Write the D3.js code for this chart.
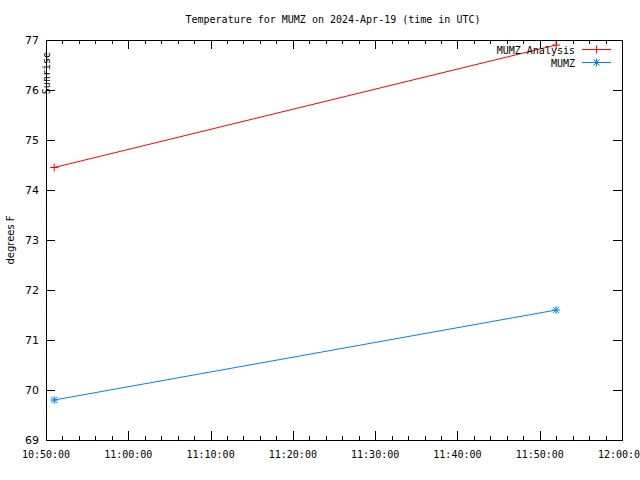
<!DOCTYPE html>
<html><head><meta charset="utf-8">
<script src="https://cdn.jsdelivr.net/npm/d3@7"></script>
<style>body{margin:0;background:#fff}svg{display:block}text{font-family:"DejaVu Sans Mono",monospace;font-size:10px;fill:#000}</style>
</head><body>
<svg id="c" width="640" height="480"></svg>
<script>
const analysisTimes = ["10:51:00", "11:52:00"];
const analysisValues = [74.45, 76.9];
const obsTimes = ["10:51:00", "11:52:00"];
const obsValues = [69.8, 71.6];
const yTicks = [69, 70, 71, 72, 73, 74, 75, 76, 77];
const xTickLabels = ["10:50:00","11:00:00","11:10:00","11:20:00","11:30:00","11:40:00","11:50:00","12:00:00"];
const sunriseTime = "10:50:00";

const parse = d3.timeParse("%H:%M:%S");
const svg = d3.select("#c");
const L = 46, R = 622, T = 40, B = 440;
const x = d3.scaleTime().domain([parse("10:50:00"), parse("12:00:00")]).range([L, R]);
const y = d3.scaleLinear().domain([69, 77]).range([B, T]);

// frame
svg.append("rect").attr("x", L).attr("y", T).attr("width", R-L).attr("height", B-T)
  .attr("fill","none").attr("stroke","#000").attr("stroke-width",1).attr("shape-rendering","crispEdges");

const g = svg.append("g").attr("shape-rendering","crispEdges");
// x ticks major & minor
const minor = d3.timeMinute.every(2).range(parse("10:50:00"), d3.timeSecond.offset(parse("12:00:00"),1));
minor.forEach(t => {
  const isMajor = t.getMinutes() % 10 === 0;
  const len = isMajor ? 9 : 4;
  const px = Math.round(x(t)) + 0.5;
  g.append("line").attr("x1",px).attr("x2",px).attr("y1",B).attr("y2",B-len).attr("stroke","#000");
  g.append("line").attr("x1",px).attr("x2",px).attr("y1",T).attr("y2",T+len).attr("stroke","#000");
});
xTickLabels.forEach(s => {
  svg.append("text").attr("x", x(parse(s))).attr("y", 458).attr("text-anchor","middle").text(s);
});
yTicks.forEach(v => {
  const py = Math.round(y(v)) + 0.5;
  g.append("line").attr("x1",L).attr("x2",L+9).attr("y1",py).attr("y2",py).attr("stroke","#000");
  g.append("line").attr("x1",R).attr("x2",R-9).attr("y1",py).attr("y2",py).attr("stroke","#000");
  svg.append("text").attr("x", 39).attr("y", y(v)+4).attr("text-anchor","end")
    .style("font-family","'DejaVu Sans',sans-serif").style("font-size","11px").text(v);
});

// title
svg.append("text").attr("x", 333).attr("y", 23).attr("text-anchor","middle")
  .text("Temperature for MUMZ on 2024-Apr-19 (time in UTC)");
// y label
svg.append("text").attr("transform","translate(14,240) rotate(-90)").attr("text-anchor","middle")
  .style("font-family","'DejaVu Sans',sans-serif").style("font-size","10px").text("degrees F");
// sunrise
svg.append("text").attr("transform",`translate(${x(parse(sunriseTime))+4},52) rotate(-90)`).attr("text-anchor","end")
  .text("Sunrise");

const line = d3.line().x(d => x(parse(d[0]))).y(d => y(d[1]));
const aData = analysisTimes.map((t,i)=>[t, analysisValues[i]]);
const oData = obsTimes.map((t,i)=>[t, obsValues[i]]);
const red = "#ff0000", blue = "#0080ff";

svg.append("path").attr("d", line(aData)).attr("fill","none").attr("stroke",red).attr("stroke-width",1);
svg.append("path").attr("d", line(oData)).attr("fill","none").attr("stroke",blue).attr("stroke-width",1);

function plus(sel, cx, cy, c){
  sel.append("path").attr("d",`M${cx-4},${cy}H${cx+4}M${cx},${cy-4}V${cy+4}`).attr("stroke",c).attr("fill","none");
}
function star(sel, cx, cy, c){
  sel.append("path").attr("d",`M${cx-4},${cy}H${cx+4}M${cx},${cy-4}V${cy+4}M${cx-3},${cy-3}L${cx+3},${cy+3}M${cx-3},${cy+3}L${cx+3},${cy-3}`).attr("stroke",c).attr("fill","none");
}
aData.forEach(d => plus(svg, x(parse(d[0])), y(d[1]), red));
oData.forEach(d => star(svg, x(parse(d[0])), y(d[1]), blue));

// legend
svg.append("text").attr("x", 575).attr("y", 54).attr("text-anchor","end").text("MUMZ Analysis");
svg.append("line").attr("x1",582).attr("x2",611).attr("y1",49.5).attr("y2",49.5).attr("stroke",red);
plus(svg, 596.5, 49.5, red);
svg.append("text").attr("x", 575).attr("y", 67).attr("text-anchor","end").text("MUMZ");
svg.append("line").attr("x1",582).attr("x2",611).attr("y1",62.5).attr("y2",62.5).attr("stroke",blue);
star(svg, 596.5, 62.5, blue);
</script>
</body></html>
